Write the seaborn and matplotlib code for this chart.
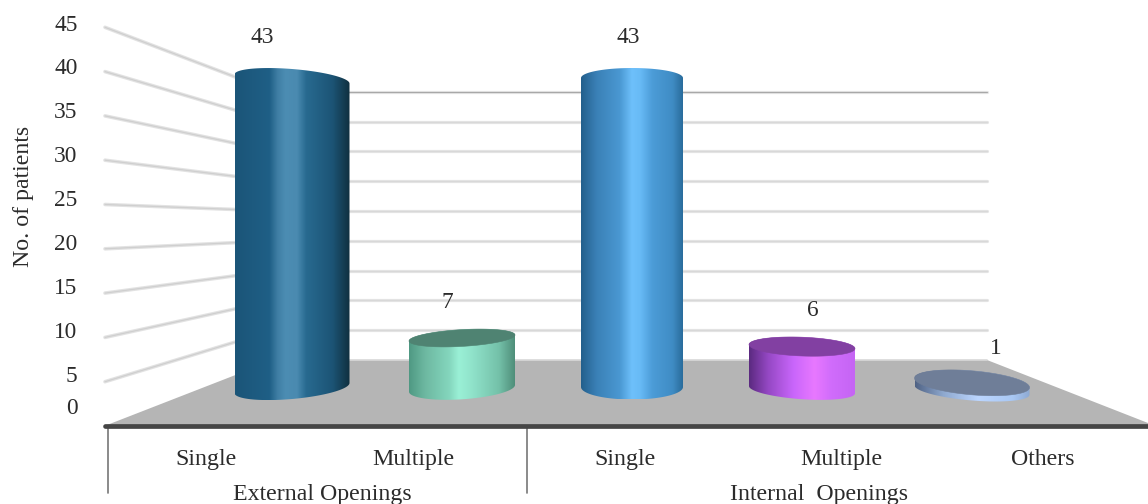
import matplotlib
matplotlib.use("Agg")
import matplotlib.pyplot as plt
import numpy as np
import pandas as pd
import seaborn as sns
from matplotlib.colors import LinearSegmentedColormap
from matplotlib.patches import PathPatch, Polygon
from matplotlib.path import Path
from matplotlib.transforms import Affine2D

# Survey counts
bar_keys = ["ext_single", "ext_multiple", "int_single", "int_multiple", "int_others"]
category_labels = ["Single", "Multiple", "Single", "Multiple", "Others"]
patient_counts = [43, 7, 43, 6, 1]
group_labels = ["External Openings", "Internal  Openings"]
axis_ticks = [0, 5, 10, 15, 20, 25, 30, 35, 40, 45]
axis_title = "No. of patients"

W, H = 1148, 504
PX_PER_BAR = 170.0
PX_PER_COUNT = 7.186
BASE_ROW = 387.5
TEXT_COLOR = "#2b2b2b"
WORD_SIZE = 17.2
DIGIT_SIZE = 16.8

# Cylinder shading: left-to-right colour stops across each barrel
barrel_stops = [
    [(0, "#1b5578"), (0.30, "#1f5f86"), (0.37, "#3f7ea4"), (0.44, "#4c8db3"), (0.54, "#4a8ab0"),
     (0.62, "#286a90"), (0.85, "#1c5475"), (1, "#10303f")],
    [(0, "#4f9983"), (0.15, "#6db8a1"), (0.38, "#84d6bd"), (0.47, "#9af0d6"), (0.60, "#90e2ca"),
     (0.85, "#74c1a9"), (1, "#4f8e7a")],
    [(0, "#235f8c"), (0.15, "#3a80b6"), (0.38, "#4a98d2"), (0.50, "#6ec0fb"), (0.58, "#68bbf6"),
     (0.70, "#4c9cd8"), (0.90, "#3f8cc4"), (1, "#2a6c9c")],
    [(0, "#5b2a80"), (0.18, "#9548c4"), (0.42, "#c966fb"), (0.62, "#e878ff"), (0.78, "#d06cfb"), (1, "#c565f4")],
    [(0, "#4f6284"), (0.25, "#8fa9cf"), (0.55, "#bcd6ff"), (0.85, "#a9c8f4"), (1, "#8ea9d2")],
]
cap_colors = [None, "#4f8372", None, "#8240a2", "#6f7e98"]

half_widths = [57.5, 53, 51, 53, 57.5]
base_shift = [0.5, 0.8, -0.5, 2.2, 2.5]
top_height = [10.0, 8.4, 10.0, 9.4, 12.0]
top_shear = [4.5, -3.0, 0.0, 2.0, 4.7]
bottom_height = [11.0, 11.0, 12.5, 9.5, 10.5]
bottom_shear = [-5.0, -3.4, 0.0, 3.6, 4.7]
label_offsets = [(-29.3, 36.3), (-15, 29.7), (-4, 35.3), (11, 30.6), (24, 28.8)]

sns.set_theme(style="white")
plt.rcParams["font.family"] = ["Liberation Serif", "DejaVu Serif"]

fig = plt.figure(figsize=(W / 100, H / 100), dpi=100, facecolor="white")
ax = fig.add_axes([0, 0, 1, 1])
frame = pd.DataFrame({"key": bar_keys, "count": patient_counts})
sns.barplot(data=frame, x="key", y="count", order=bar_keys, color="#808080", width=0.6, ax=ax, zorder=3)

x0_px = 292.0
xlim = (-x0_px / PX_PER_BAR, (W - x0_px) / PX_PER_BAR)
ylim = ((BASE_ROW - H) / PX_PER_COUNT, BASE_ROW / PX_PER_COUNT)

# Pixel-addressed overlay for the painted walls, floor and labels
pixels = Affine2D().scale(1, -1).translate(0, H)

# Side wall and back wall rulings
back_corner_x, back_right_x = 274, 987
for tick in axis_ticks[1:]:
    front_y = 426 - 8.86 * tick
    back_y = 360 - 5.96 * tick
    xs, ys = [105, back_corner_x], [front_y, back_y]
    ax.plot(xs, ys, transform=pixels, color="#e2e2e2", lw=2.6, solid_capstyle="round", zorder=1)
    ax.plot(xs, ys, transform=pixels, color="#cfcfcf", lw=0.9, zorder=1.1)
    xs, ys = [back_corner_x, back_right_x], [back_y, back_y]
    ax.plot(xs, ys, transform=pixels, color="#e4e4e4", lw=2.3, zorder=1)
    ax.plot(xs, ys, transform=pixels, color="#a8a8a8" if tick == 45 else "#d8d8d8", lw=0.8, zorder=1.1)

# Floor and front edge
ax.add_patch(Polygon([(107, 425), (back_corner_x, 360), (back_right_x, 360), (1148, 423), (1148, 426)],
                     closed=True, transform=pixels, facecolor="#b5b5b5", edgecolor="none", zorder=2))
ax.plot([back_corner_x, back_right_x], [360, 360], transform=pixels, color="#d8d8d8", lw=1.2, zorder=2.1)
ax.plot([105, 1148], [425.5, 425.5], transform=pixels, color="#454545", lw=3.4, solid_capstyle="round", zorder=2.5)
for x in (108, 527):
    ax.plot([x, x], [426, 493], transform=pixels, color="#777777", lw=1.2, zorder=2.4)


def ring(cx, cy, rx, ry, shear, t):
    """Sheared ellipse in data units; rx, ry, shear are in pixels and cy is a count."""
    return (cx + rx * np.cos(t) / PX_PER_BAR,
            cy - (ry * np.sin(t) + shear * np.cos(t)) / PX_PER_COUNT)


bars = [p for p in ax.patches][:len(patient_counts)]
for i, (bar, count) in enumerate(zip(bars, patient_counts)):
    cx = bar.get_x() + bar.get_width() / 2
    rx = half_widths[i]
    bar.set_x(cx - rx / PX_PER_BAR)
    bar.set_width(2 * rx / PX_PER_BAR)
    bar.set_visible(False)

    base = -base_shift[i] / PX_PER_COUNT
    top = count + base
    lower = np.linspace(np.pi, 0, 80)
    upper = np.linspace(0, -np.pi, 80)
    bx, by = ring(cx, base, rx, bottom_height[i], bottom_shear[i], lower)
    tx, ty = ring(cx, top, rx, top_height[i], top_shear[i], upper)
    outline = np.column_stack([np.r_[bx, tx], np.r_[by, ty]])
    shape = PathPatch(Path(np.vstack([outline, outline[0]]), closed=True), transform=ax.transData,
                      facecolor="none", edgecolor="none")
    ax.add_patch(shape)

    cmap = LinearSegmentedColormap.from_list(f"barrel{i}", barrel_stops[i])
    gradient = np.linspace(0, 1, 256).reshape(1, -1)
    img = ax.imshow(gradient, cmap=cmap, aspect="auto", interpolation="bilinear", zorder=3,
                    extent=(cx - rx / PX_PER_BAR, cx + rx / PX_PER_BAR, outline[:, 1].min(), outline[:, 1].max()))
    img.set_clip_path(shape)

    if cap_colors[i]:
        t = np.linspace(0, 2 * np.pi, 160)
        ex, ey = ring(cx, top, rx, top_height[i], top_shear[i], t)
        ax.fill(ex, ey, color=cap_colors[i], lw=0.4, zorder=3.5)

    dx, dy = label_offsets[i]
    ax.annotate(str(count), xy=(cx, top), xytext=(dx, dy), textcoords="offset pixels",
                ha="center", va="baseline", fontsize=DIGIT_SIZE, color=TEXT_COLOR, zorder=5)

ax.set_xlim(*xlim)
ax.set_ylim(*ylim)
ax.set_axis_off()

# Value axis labels sit beside the side wall
tick_rows = [414, 382, 338, 294.3, 250, 206, 162, 117.7, 74, 30.7]
for tick, row in zip(axis_ticks, tick_rows):
    ax.text(77.5, row, str(tick), transform=pixels, ha="right", va="baseline",
            fontsize=DIGIT_SIZE, color=TEXT_COLOR)
ax.text(23, 196, axis_title, transform=pixels, rotation=90, ha="center", va="center",
        fontsize=WORD_SIZE, color=TEXT_COLOR)

# Two-level category labels
for label, x in zip(category_labels, [206, 413, 625, 841, 1043]):
    ax.text(x, 465, label, transform=pixels, ha="center", va="baseline", fontsize=WORD_SIZE, color=TEXT_COLOR)
for label, x in zip(group_labels, [322, 819]):
    ax.text(x, 500, label, transform=pixels, ha="center", va="baseline", fontsize=WORD_SIZE, color=TEXT_COLOR)

fig.savefig("out.png", dpi=100, facecolor="white")
